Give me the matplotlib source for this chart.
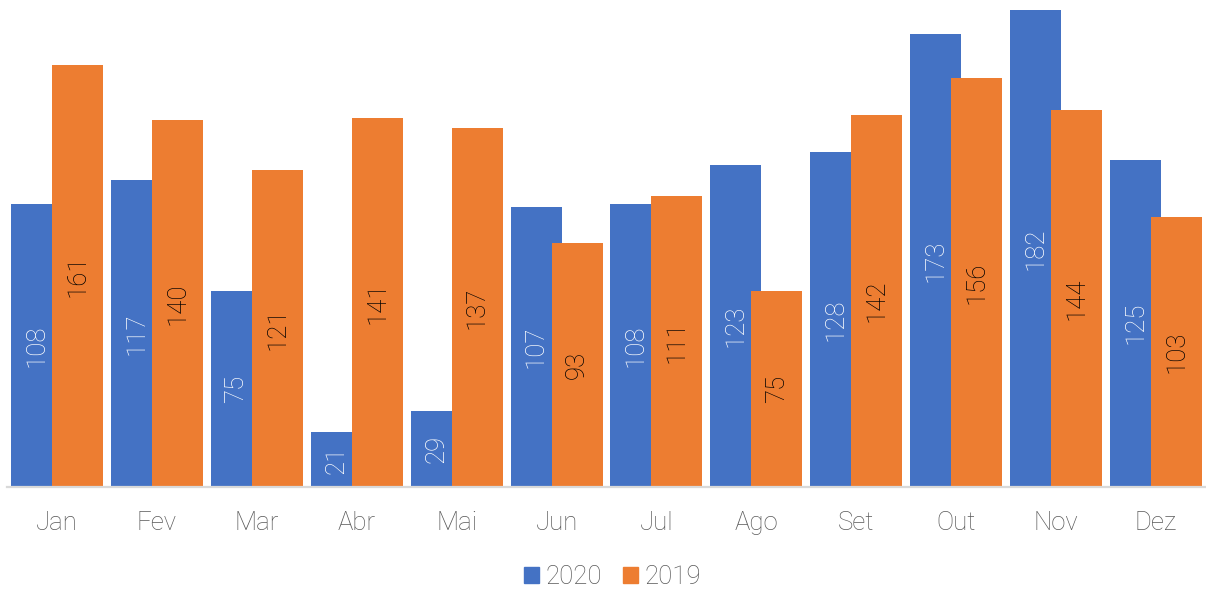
"""
Monthly comparison 2020 vs 2019, grouped bars with inside labels.
"""

import numpy as np
import matplotlib
matplotlib.use("Agg")
import matplotlib.pyplot as plt
from matplotlib.patches import Patch

months = ["Jan", "Fev", "Mar", "Abr", "Mai", "Jun", "Jul", "Ago", "Set", "Out", "Nov", "Dez"]
values_2020 = [108, 117, 75, 21, 29, 107, 108, 123, 128, 173, 182, 125]
values_2019 = [161, 140, 121, 141, 137, 93, 111, 75, 142, 156, 144, 103]

blue = '#4472c4'
orange = '#ed7d31'
grey_text = '#595959'

plt.rcParams['font.family'] = ['Roboto', 'DejaVu Sans']
plt.rcParams['font.weight'] = 'light'

fig = plt.figure(figsize=(12.06, 5.89), dpi=100)
ax = fig.add_axes([7 / 1206, 102 / 589, 1199 / 1206, 487 / 589])

x = np.arange(len(months))
width = 0.51
offset = 0.205

bars_2020 = ax.bar(x - offset, values_2020, width, color=blue, zorder=2)
bars_2019 = ax.bar(x + offset, values_2019, width, color=orange, zorder=3)

# labels in the middle of each bar, rotated
for rect, v in zip(bars_2020, values_2020):
    ax.text(rect.get_x() + rect.get_width() / 2, v / 2, str(v), rotation=90,
            ha='center', va='center', color='white', fontsize=18.5,
            fontweight='light', zorder=4)
for rect, v in zip(bars_2019, values_2019):
    ax.text(rect.get_x() + rect.get_width() / 2, v / 2, str(v), rotation=90,
            ha='center', va='center', color='black', fontsize=18.5,
            fontweight='light', zorder=4)

ax.set_xlim(-0.5, len(months) - 0.5)
ax.set_ylim(0, 487 / 2.62)
ax.set_xticks(x)
ax.set_xticklabels(months, fontsize=18.5, color=grey_text, fontweight='light')
ax.tick_params(axis='x', length=0, pad=17)
ax.set_yticks([])

for side in ['top', 'right', 'left']:
    ax.spines[side].set_visible(False)
ax.spines['bottom'].set_color('#d9d9d9')
ax.spines['bottom'].set_linewidth(1.6)
ax.spines['bottom'].set_zorder(5)

handles = [Patch(color=blue, label='2020'), Patch(color=orange, label='2019')]
leg = fig.legend(handles=handles, loc='center', bbox_to_anchor=(0.508, 12 / 589),
                 ncol=2, frameon=False, fontsize=18.5, handlelength=0.58,
                 handleheight=0.58, handletextpad=0.27, columnspacing=0.8,
                 borderpad=0.2)
for t in leg.get_texts():
    t.set_color(grey_text)

fig.savefig('out.png', dpi=100)
